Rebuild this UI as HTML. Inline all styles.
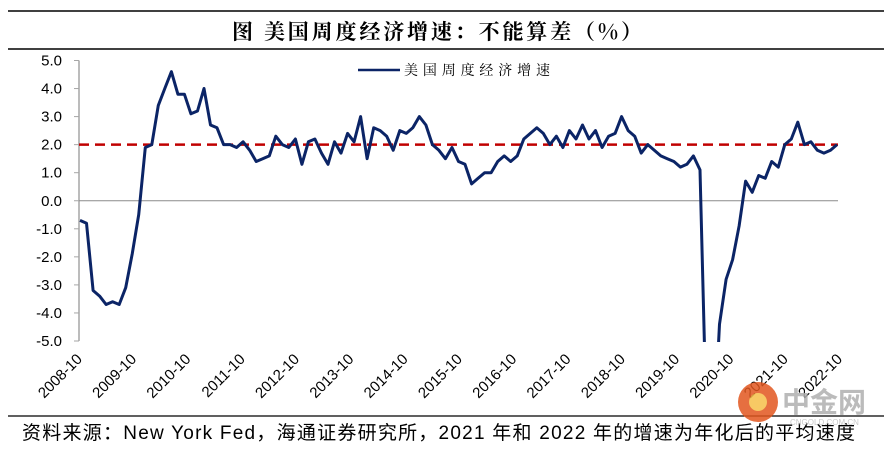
<!DOCTYPE html>
<html><head><meta charset="utf-8"><style>
html,body{margin:0;padding:0;background:#fff;}
svg{display:block;font-family:"Liberation Sans","Noto Sans CJK SC",sans-serif;}
</style></head><body>
<svg id="chart" width="892" height="452" viewBox="0 0 892 452">
<line x1="8" y1="11" x2="884" y2="11" stroke="#000" stroke-width="1.5"/>
<text x="232" y="39" font-size="21" font-weight="bold" textLength="410" lengthAdjust="spacing" font-family="'Noto Serif CJK SC','Noto Sans CJK SC',serif">图  美国周度经济增速：不能算差（%）</text>
<line x1="8" y1="49" x2="884" y2="49" stroke="#000" stroke-width="1.5"/>
<g id="yaxis"></g>
<g id="xaxis"></g>
<g id="plot"></g>
<g>
<line x1="358" y1="70" x2="400" y2="70" stroke="#0b2466" stroke-width="2.5"/>
<text x="404" y="75" font-size="14" textLength="146" lengthAdjust="spacing" font-family="'Noto Serif CJK SC','Noto Sans CJK SC',serif">美国周度经济增速</text>
</g>
<line x1="8" y1="416" x2="884" y2="416" stroke="#000" stroke-width="1.2"/>
<text x="22" y="439" font-size="19" textLength="833" lengthAdjust="spacing">资料来源：New York Fed，海通证券研究所，2021 年和 2022 年的增速为年化后的平均速度</text>
<g opacity="0.85">
<circle cx="758" cy="402" r="20" fill="#e2571f"/>
<circle cx="758" cy="402" r="9" fill="#f6c04a"/>
<text x="782" y="412" font-size="28" font-weight="bold" fill="#b0b0b0">中金网</text>
<text x="790" y="425" font-size="8" fill="#c0c0c0">CNGOLD.COM.CN</text>
</g>
</svg>
<script>
const yTicks = [5,4,3,2,1,0,-1,-2,-3,-4,-5];
const xLabels = ["2008-10","2009-10","2010-10","2011-10","2012-10","2013-10","2014-10","2015-10","2016-10","2017-10","2018-10","2019-10","2020-10","2021-10","2022-10"];
const targetLine = 2.0;
const growth = [-0.7,-0.8,-3.2,-3.4,-3.7,-3.6,-3.7,-3.1,-1.9,-0.5,1.9,2.0,3.4,4.0,4.6,3.8,3.8,3.1,3.2,4.0,
2.7,2.6,2.0,2.0,1.9,2.1,1.8,1.4,1.5,1.6,2.3,2.0,1.9,2.2,1.3,2.1,2.2,1.7,1.3,2.1,
1.7,2.4,2.1,3.0,1.5,2.6,2.5,2.3,1.8,2.5,2.4,2.6,3.0,2.7,2.0,1.8,1.5,1.9,1.4,1.3,
0.6,0.8,1.0,1.0,1.4,1.6,1.4,1.6,2.2,2.4,2.6,2.4,2.0,2.3,1.9,2.5,2.2,2.7,2.2,2.5,
1.9,2.3,2.4,3.0,2.5,2.3,1.7,2.0,1.8,1.6,1.5,1.4,1.2,1.3,1.6,1.1,-8.0,-9.0,-4.4,-2.8,
-2.1,-0.9,0.7,0.3,0.9,0.8,1.4,1.2,2.0,2.2,2.8,2.0,2.1,1.8,1.7,1.8,2.0];

const NS="http://www.w3.org/2000/svg";
const X0=79, X1=838, Y0=60.5, Y1=341;
const yScale = v => Y0 + (5 - v) / 10 * (Y1 - Y0);
const xData = i => 80 + i * (837 - 80) / (growth.length - 1);
const xTick = k => 83 + k * 54.3;
function mk(tag, attrs){const e=document.createElementNS(NS,tag);for(const k in attrs)e.setAttribute(k,attrs[k]);return e;}

const ya=document.getElementById('yaxis');
const ax=mk('line',{x1:X0,y1:Y0,x2:X0,y2:Y1,stroke:'#a6a6a6','stroke-width':1.5});


ya.appendChild(ax);
yTicks.forEach(v=>{
  const y=yScale(v);
  const t=mk('line',{x1:X0-5,y1:y,x2:X0,y2:y,stroke:'#a6a6a6','stroke-width':1});
  
  
  ya.appendChild(t);
  const l=mk('text',{x:62,y:y+5,'text-anchor':'end','font-size':15});
  
  
  l.textContent=v.toFixed(1);
  ya.appendChild(l);
});
const xa=document.getElementById('xaxis');
xLabels.forEach((s,k)=>{
  const x=xTick(k), y=360;
  const l=mk('text',{x:x,y:y,'text-anchor':'end','font-size':15,transform:`rotate(-45 ${x} ${y})`});
  
  
  l.textContent=s;
  xa.appendChild(l);
});
const p=document.getElementById('plot');
const cp=mk('clipPath',{id:'clip'});
cp.appendChild(mk('rect',{x:X0,y:Y0-2,width:X1-X0+4,height:Y1-Y0+3}));
p.appendChild(cp);
const zero=mk('line',{x1:X0,y1:yScale(0),x2:X1,y2:yScale(0),stroke:'#8c8c8c','stroke-width':1});


p.appendChild(zero);
const ref=mk('line',{x1:X0,y1:yScale(targetLine),x2:X1,y2:yScale(targetLine),stroke:'#c00000','stroke-width':2.5,'stroke-dasharray':'10 6'});


p.appendChild(ref);
const d=growth.map((v,i)=>(i?'L':'M')+xData(i).toFixed(1)+','+yScale(v).toFixed(1)).join(' ');
const line=mk('path',{d:d,fill:'none',stroke:'#0b2466','stroke-width':3,'stroke-linejoin':'round','clip-path':'url(#clip)'});


p.appendChild(line);
</script>
</body></html>
